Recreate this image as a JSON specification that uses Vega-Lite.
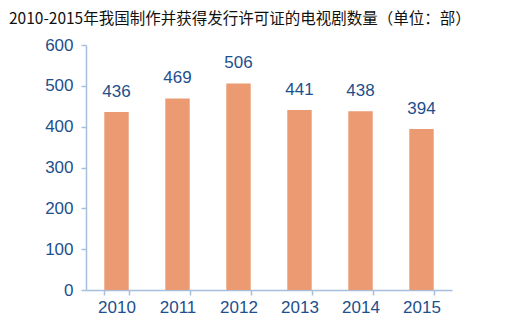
{
  "$schema": "https://vega.github.io/schema/vega-lite/v6.json",
  "width": 366,
  "height": 245,
  "autosize": {"type": "none"},
  "padding": {"left": 86, "top": 45, "right": 54, "bottom": 29},
  "background": "white",
  "title": {
    "text": "2010-2015年我国制作并获得发行许可证的电视剧数量（单位：部）",
    "anchor": "start",
    "frame": "group",
    "dx": -77,
    "offset": 9,
    "font": "Noto Sans CJK SC",
    "fontSize": 15.5,
    "fontWeight": "normal",
    "color": "#111111"
  },
  "data": {
    "values": [
      {"year": "2010", "count": 436},
      {"year": "2011", "count": 469},
      {"year": "2012", "count": 506},
      {"year": "2013", "count": 441},
      {"year": "2014", "count": 438},
      {"year": "2015", "count": 394}
    ]
  },
  "config": {
    "view": {"stroke": null},
    "axis": {
      "labelFont": "Liberation Sans",
      "labelFontSize": 17,
      "labelColor": "#1d4f8c",
      "domainColor": "#a8bfdc",
      "tickColor": "#a8bfdc",
      "domainWidth": 1.5,
      "tickWidth": 1.5,
      "grid": false,
      "title": null
    }
  },
  "encoding": {
    "x": {
      "field": "year",
      "type": "nominal",
      "scale": {"paddingInner": 0.6, "paddingOuter": 0.3},
      "axis": {"labelAngle": 0, "tickBand": "extent", "tickSize": 5, "labelPadding": 4}
    },
    "y": {
      "field": "count",
      "type": "quantitative",
      "scale": {"domain": [0, 600]},
      "axis": {"values": [0, 100, 200, 300, 400, 500, 600], "tickSize": 5, "labelPadding": 8}
    }
  },
  "layer": [
    {"mark": {"type": "bar", "color": "#ec9a72"}},
    {
      "mark": {
        "type": "text",
        "baseline": "bottom",
        "dy": -11,
        "font": "Liberation Sans",
        "fontSize": 17,
        "color": "#1d4f8c"
      },
      "encoding": {"text": {"field": "count", "type": "quantitative"}}
    }
  ]
}
